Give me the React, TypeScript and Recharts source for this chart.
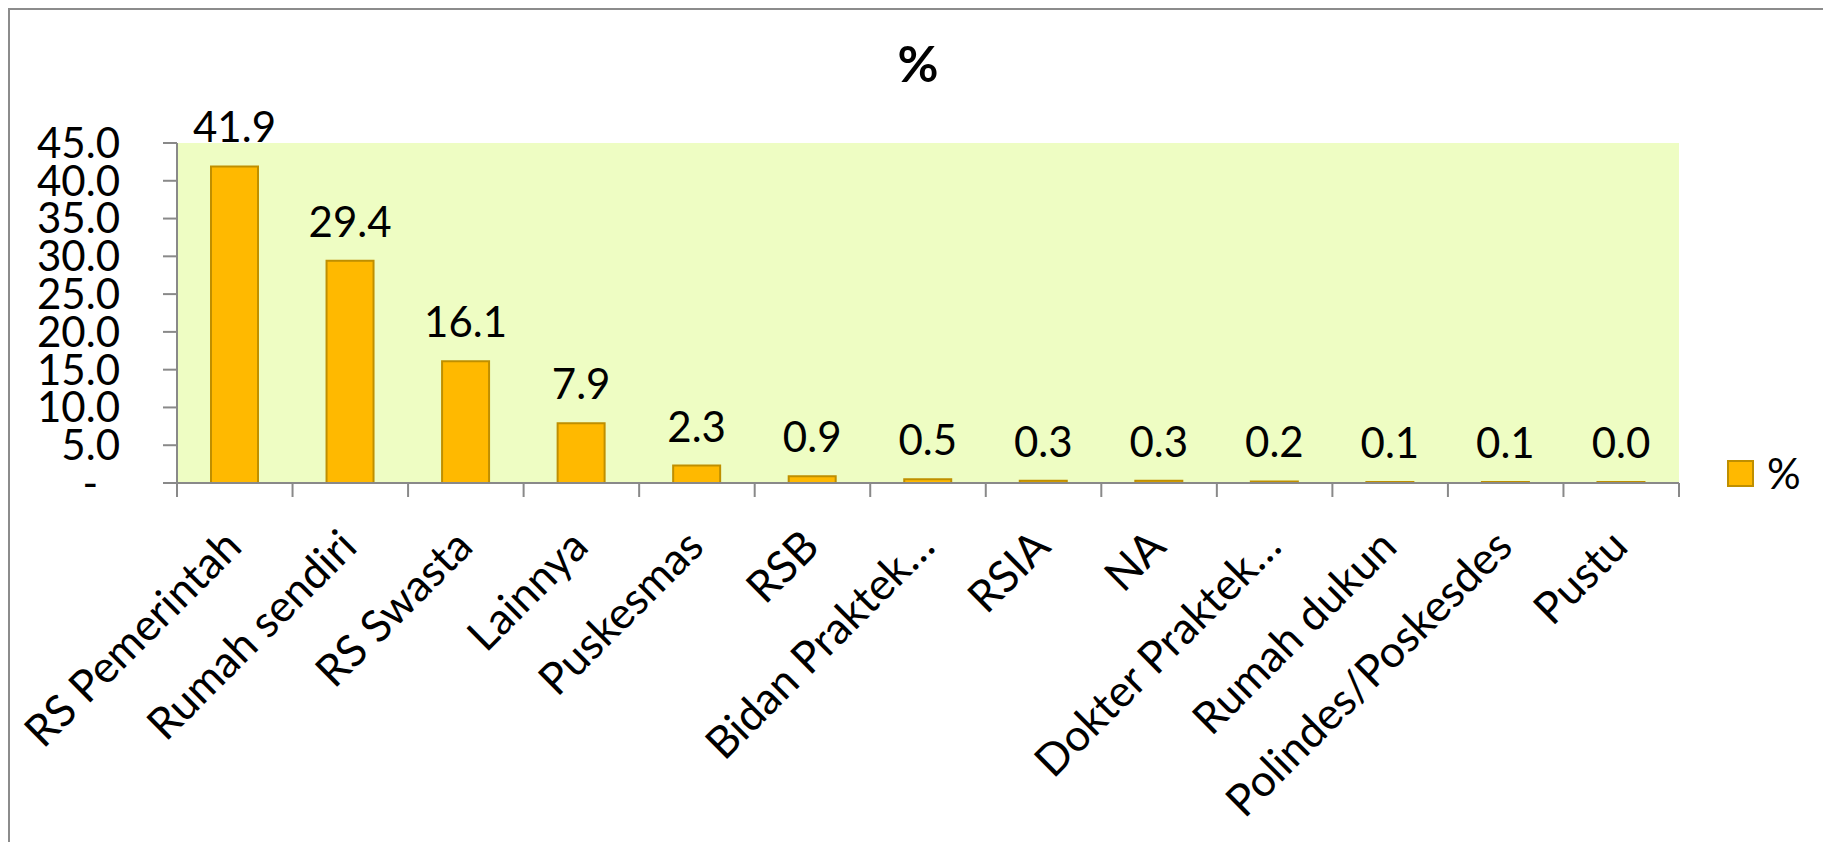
import React from 'react';
import { BarChart, Bar, XAxis, YAxis, CartesianGrid, LabelList, Legend } from 'recharts';

const categories = [
  'RS Pemerintah',
  'Rumah sendiri',
  'RS Swasta',
  'Lainnya',
  'Puskesmas',
  'RSB',
  'Bidan Praktek…',
  'RSIA',
  'NA',
  'Dokter Praktek…',
  'Rumah dukun',
  'Polindes/Poskesdes',
  'Pustu',
];
const percentValues = [41.9, 29.4, 16.1, 7.9, 2.3, 0.9, 0.5, 0.3, 0.3, 0.2, 0.1, 0.1, 0.0];
const yTicks = [0, 5, 10, 15, 20, 25, 30, 35, 40, 45];
const seriesName = '%';
const chartTitle = '%';

const data = categories.map((name, i) => ({ name, value: percentValues[i] }));

const FONT = 'Lato, "Open Sans", sans-serif';
const AXIS = '#898989';
const BAR_FILL = '#FFB900';
const BAR_STROKE = '#BF8F00';
const PLOT_BG = '#EEFDC3';
const FS = 42;
const XFS = 44;

const YTick = (props: any) => {
  const { x, y, payload } = props;
  const v = Number(payload.value);
  const zero = v === 0;
  return (
    <text
      x={zero ? x - 22 : x}
      y={y}
      dy="0.355em"
      textAnchor="end"
      fontFamily={FONT}
      fontSize={FS}
      fill="#000"
    >
      {zero ? '-' : v.toFixed(1)}
    </text>
  );
};

const XTick = (props: any) => {
  const { x, y, payload, index, visibleTicksCount } = props;
  const half = payload && payload.offset != null ? payload.offset : 0;
  const last = index === visibleTicksCount - 1;
  const ax = x + 9;
  const ay = y + 66;
  return (
    <g>
      <line x1={x - half} x2={x - half} y1={y} y2={y + 14} stroke={AXIS} strokeWidth={2} />
      {last && <line x1={x + half} x2={x + half} y1={y} y2={y + 14} stroke={AXIS} strokeWidth={2} />}
      <text
        x={ax}
        y={ay}
        textAnchor="end"
        transform={`rotate(-45 ${ax} ${ay})`}
        fontFamily={FONT}
        fontSize={XFS}
        fill="#000"
      >
        {payload.value}
      </text>
    </g>
  );
};

const renderLegend = () => (
  <div style={{ display: 'flex', alignItems: 'center', height: 28 }}>
    <div
      style={{
        width: 27,
        height: 27,
        boxSizing: 'border-box',
        background: BAR_FILL,
        border: `2px solid ${BAR_STROKE}`,
      }}
    />
    <span style={{ marginLeft: 13, fontFamily: FONT, fontSize: FS, lineHeight: 1, color: '#000' }}>
      {seriesName}
    </span>
  </div>
);

export default function App() {
  return (
    <div
      style={{
        position: 'relative',
        width: 1820,
        height: 834,
        boxSizing: 'border-box',
        border: '2px solid #8c8c8c',
        borderBottom: 'none',
        background: '#fff',
      }}
    >
      <div
        style={{
          position: 'absolute',
          left: 0,
          right: 0,
          top: 28,
          textAlign: 'center',
          fontFamily: FONT,
          fontWeight: 700,
          fontSize: 50,
          lineHeight: '50px',
          color: '#000',
        }}
      >
        {chartTitle}
      </div>
      <BarChart
        width={1816}
        height={832}
        data={data}
        margin={{ top: 133, right: 147, left: 0, bottom: 0 }}
        barSize={47}
      >
        <CartesianGrid horizontal={false} vertical={false} fill={PLOT_BG} />
        <XAxis
          dataKey="name"
          interval={0}
          height={359}
          tickLine={false}
          tickSize={0}
          tickMargin={0}
          axisLine={{ stroke: AXIS, strokeWidth: 2 }}
          tick={<XTick />}
        />
        <YAxis
          width={167}
          domain={[0, 45]}
          ticks={yTicks}
          interval={0}
          tickSize={14}
          tickMargin={43}
          axisLine={{ stroke: AXIS, strokeWidth: 2 }}
          tickLine={{ stroke: AXIS, strokeWidth: 2 }}
          tick={<YTick />}
        />
        <Legend
          layout="horizontal"
          verticalAlign="middle"
          align="center"
          content={renderLegend}
          wrapperStyle={{ left: 1717, top: 449, width: 120 }}
        />
        <Bar
          dataKey="value"
          name={seriesName}
          fill={BAR_FILL}
          stroke={BAR_STROKE}
          strokeWidth={2}
          minPointSize={1}
          isAnimationActive={false}
        >
          <LabelList
            dataKey="value"
            position="top"
            offset={24}
            formatter={(v: any) => Number(v).toFixed(1)}
            fill="#000"
            fontFamily={FONT}
            fontSize={FS}
          />
        </Bar>
      </BarChart>
    </div>
  );
}
